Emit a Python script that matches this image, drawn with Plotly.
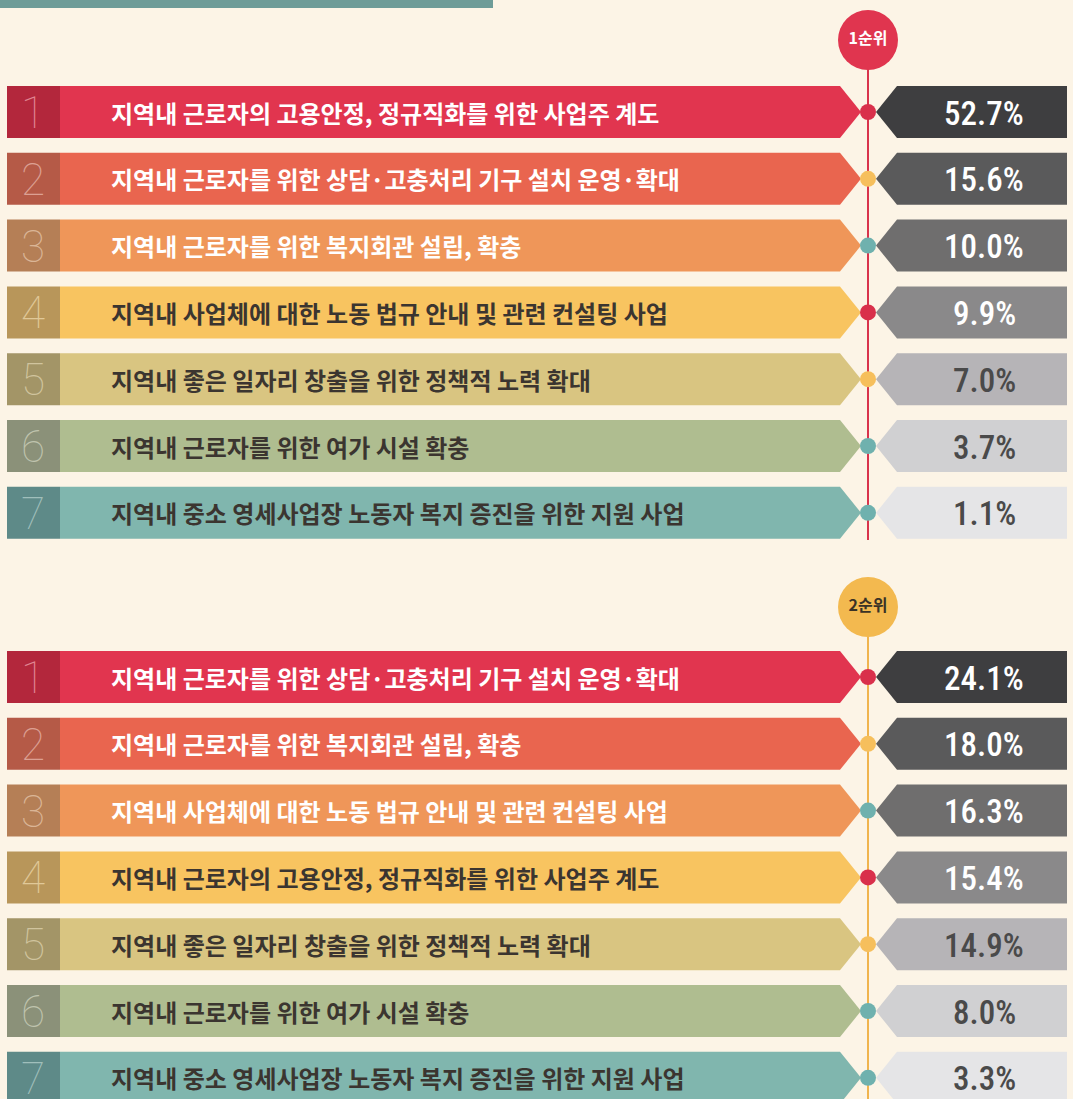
import plotly.graph_objects as go

# ---- data ----
labels_rank1 = [
    "지역내 근로자의 고용안정, 정규직화를 위한 사업주 계도",
    "지역내 근로자를 위한 상담·고충처리 기구 설치 운영·확대",
    "지역내 근로자를 위한 복지회관 설립, 확충",
    "지역내 사업체에 대한 노동 법규 안내 및 관련 컨설팅 사업",
    "지역내 좋은 일자리 창출을 위한 정책적 노력 확대",
    "지역내 근로자를 위한 여가 시설 확충",
    "지역내 중소 영세사업장 노동자 복지 증진을 위한 지원 사업",
]
values_rank1 = [52.7, 15.6, 10.0, 9.9, 7.0, 3.7, 1.1]

labels_rank2 = [
    "지역내 근로자를 위한 상담·고충처리 기구 설치 운영·확대",
    "지역내 근로자를 위한 복지회관 설립, 확충",
    "지역내 사업체에 대한 노동 법규 안내 및 관련 컨설팅 사업",
    "지역내 근로자의 고용안정, 정규직화를 위한 사업주 계도",
    "지역내 좋은 일자리 창출을 위한 정책적 노력 확대",
    "지역내 근로자를 위한 여가 시설 확충",
    "지역내 중소 영세사업장 노동자 복지 증진을 위한 지원 사업",
]
values_rank2 = [24.1, 18.0, 16.3, 15.4, 14.9, 8.0, 3.3]

rank_numbers = ["1", "2", "3", "4", "5", "6", "7"]
badge_titles = ["1순위", "2순위"]

# ---- styles ----
BG = "#fcf4e6"
bar_colors = ["#e1354f", "#e9654f", "#ef9659", "#f8c460", "#d9c581", "#afbd90", "#80b6ae"]
box_colors = ["#b3273c", "#b55a47", "#b57f56", "#b8965a", "#a39567", "#8b9179", "#5e8a88"]
digit_colors = ["#e08592", "#dca093", "#dab596", "#e0c898", "#d0c49e", "#bfc3ad", "#a0bfbb"]
label_colors = ["#ffffff", "#ffffff", "#ffffff", "#3b3530", "#3b3530", "#3b3530", "#3b3530"]
value_box_colors = ["#3e3e40", "#5a5a5b", "#6f6e6e", "#8a898a", "#b6b4b7", "#d0d0d2", "#e5e5e7"]
value_text_colors = ["#ffffff", "#ffffff", "#ffffff", "#ffffff", "#4a4a4a", "#4a4a4a", "#4a4a4a"]
dot_colors = ["#d9304b", "#f6bf5c", "#6fb1ae", "#d9304b", "#f6bf5c", "#6fb1ae", "#6fb1ae"]
badge_colors = ["#e0354f", "#f3b94f"]
badge_text_colors = ["#ffffff", "#3a3226"]
line_colors = ["#d9344c", "#f0b44e"]

W, H = 1073, 1099
section_tops = [86, 651]
section_ends = [540, 1099]
badge_y = [40, 607]
ROW_STEP = 66.8
ROW_H = 52
AXIS_X = 868

fig = go.Figure()
shapes = []
annotations = []

# header strip
shapes.append(dict(type="rect", x0=0, x1=493, y0=0, y1=8, fillcolor="#6e9c98",
                   line_width=0, layer="below"))

sections = [(labels_rank1, values_rank1), (labels_rank2, values_rank2)]
for s, (labels, values) in enumerate(sections):
    # vertical guide line
    shapes.append(dict(type="line", x0=AXIS_X, x1=AXIS_X, y0=badge_y[s], y1=section_ends[s],
                       line=dict(color=line_colors[s], width=2), layer="below"))
    dot_x, dot_y, dot_c = [], [], []
    for i, (lab, val) in enumerate(zip(labels, values)):
        top = section_tops[s] + i * ROW_STEP
        bot = top + ROW_H
        mid = (top + bot) / 2
        # main arrow bar
        shapes.append(dict(
            type="path",
            path=f"M 60 {top} L 840 {top} L 861 {mid} L 840 {bot} L 60 {bot} Z",
            fillcolor=bar_colors[i], line_width=0, layer="below"))
        # number box
        shapes.append(dict(type="rect", x0=7, x1=60, y0=top, y1=bot,
                           fillcolor=box_colors[i], line_width=0, layer="below"))
        # value box with notch
        shapes.append(dict(
            type="path",
            path=f"M 897 {top} L 1067 {top} L 1067 {bot} L 897 {bot} L 876 {mid} Z",
            fillcolor=value_box_colors[i], line_width=0, layer="below"))
        annotations.append(dict(
            x=33, y=mid + 1, text=rank_numbers[i], showarrow=False, xanchor="center",
            yanchor="middle",
            font=dict(family="Roboto", size=44, color=digit_colors[i], weight=100)))
        annotations.append(dict(
            x=109, y=mid, text=lab, showarrow=False, xanchor="left", yanchor="middle",
            font=dict(family="Noto Sans CJK KR", size=24, color=label_colors[i], weight="bold")))
        annotations.append(dict(
            x=984, y=mid + 1, text=f"{val:.1f}%", showarrow=False, xanchor="center",
            yanchor="middle",
            font=dict(family="Liberation Sans Narrow, Roboto Condensed, Roboto", size=33,
                      color=value_text_colors[i], weight=500)))
        dot_x.append(AXIS_X)
        dot_y.append(mid)
        dot_c.append(dot_colors[i])
    fig.add_trace(go.Scatter(x=dot_x, y=dot_y, mode="markers", hoverinfo="skip",
                             marker=dict(size=16, color=dot_c, line=dict(width=0))))
    # rank badge
    fig.add_trace(go.Scatter(x=[AXIS_X], y=[badge_y[s]], mode="markers+text",
                             text=[badge_titles[s]], textposition="middle center",
                             hoverinfo="skip",
                             textfont=dict(family="Noto Sans CJK KR", size=16,
                                           color=badge_text_colors[s], weight="bold"),
                             marker=dict(size=60, color=badge_colors[s], line=dict(width=0))))

fig.update_layout(
    width=W, height=H,
    margin=dict(l=0, r=0, t=0, b=0),
    paper_bgcolor=BG, plot_bgcolor=BG,
    showlegend=False,
    shapes=shapes,
    annotations=annotations,
    xaxis=dict(range=[0, W], visible=False, fixedrange=True),
    yaxis=dict(range=[H, 0], visible=False, fixedrange=True),
)

fig.write_html(
    "out.html",
    config={"displayModeBar": False},
    post_script="document.body.style.margin='0';document.body.style.overflow='hidden';"
                f"document.body.style.background='{BG}';",
)
